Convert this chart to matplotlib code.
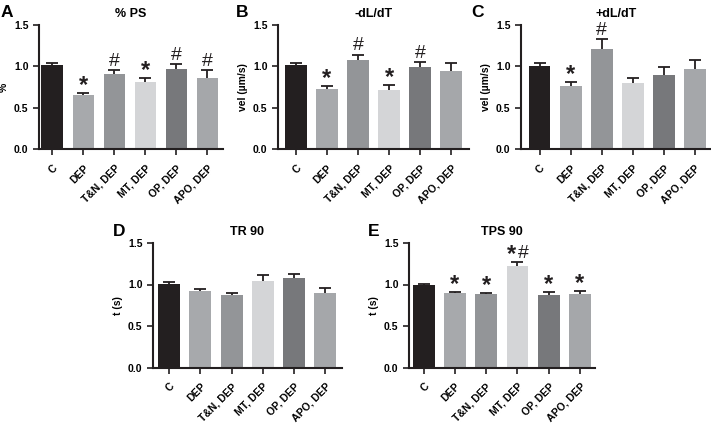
import matplotlib
matplotlib.use("Agg")
import matplotlib.pyplot as plt
import numpy as np

plt.rcParams['font.family'] = ['Liberation Sans', 'DejaVu Sans']
plt.rcParams['font.weight'] = 'bold'

categories = ["C", "DEP", "T&N, DEP", "MT, DEP", "OP, DEP", "APO, DEP"]
bar_colors = ["#231f20", "#a7a9ac", "#939598", "#d4d5d7", "#77787b", "#a5a7aa"]

ps_mean = [1.02, 0.66, 0.91, 0.81, 0.97, 0.86]
ps_err = [0.02, 0.025, 0.05, 0.055, 0.056, 0.093]
ps_marks = ["", "*", "#", "*", "#", "#"]

neg_mean = [1.02, 0.73, 1.08, 0.72, 0.99, 0.94]
neg_err = [0.02, 0.036, 0.064, 0.06, 0.06, 0.10]
neg_marks = ["", "*", "#", "*", "#", ""]

pos_mean = [1.01, 0.76, 1.21, 0.80, 0.90, 0.97]
pos_err = [0.035, 0.05, 0.125, 0.065, 0.088, 0.11]
pos_marks = ["", "*", "#", "", "", ""]

tr_mean = [1.01, 0.92, 0.87, 1.04, 1.08, 0.90]
tr_err = [0.02, 0.02, 0.025, 0.07, 0.05, 0.056]
tr_marks = ["", "", "", "", "", ""]

tps_mean = [1.00, 0.90, 0.88, 1.22, 0.87, 0.88]
tps_err = [0.01, 0.015, 0.016, 0.05, 0.04, 0.04]
tps_marks = ["", "*", "*", "*#", "*", "*"]

W, H = 711, 426
fig = plt.figure(figsize=(W / 100, H / 100), dpi=100)

panels = [
    ("A", "% PS", "%", ps_mean, ps_err, ps_marks, (39, 223, 25, 149.3), (-0.43, 5.5), (1, 17)),
    ("B", "-dL/dT", "vel (µm/s)", neg_mean, neg_err, neg_marks, (278, 469, 25, 149.3), (-0.58, 5.58), (236, 17)),
    ("C", "+dL/dT", "vel (µm/s)", pos_mean, pos_err, pos_marks, (521, 711, 25, 149.3), (-0.6, 5.52), (471, 17)),
    ("D", "TR 90", "t (s)", tr_mean, tr_err, tr_marks, (153, 342, 243, 367.5), (-0.52, 5.54), (113, 236)),
    ("E", "TPS 90", "t (s)", tps_mean, tps_err, tps_marks, (409, 595, 243, 367.5), (-0.47, 5.48), (368, 236)),
]

# glyph styles for significance marks: (fontsize, baseline offset in points, weight)
mark_style = {"*": (17, 0.5, 'bold'), "#": (14, 3.0, 'normal')}

x = np.arange(len(categories))
for letter, title, ylabel, means, errs, marks, box, xlim, lpos in panels:
    x0, x1, yt, yb = box
    ax = fig.add_axes([x0 / W, 1 - yb / H, (x1 - x0) / W, (yb - yt) / H])
    ax.bar(x, means, width=0.7, color=bar_colors, edgecolor='none', zorder=2)
    eb = ax.errorbar(x, means, yerr=[np.zeros(len(means)), errs], fmt='none',
                     ecolor='#231f20', elinewidth=1.3, capsize=4.3, capthick=1.3, zorder=3)
    # hide lower caps (error bars are one-sided, upwards)
    eb[1][0].set_visible(False)
    for xi, m, e, mk in zip(x, means, errs, marks):
        if not mk:
            continue
        n = len(mk)
        for k, ch in enumerate(mk):
            fs, dy, fw = mark_style[ch]
            dx = (k - (n - 1) / 2) * 8
            ax.annotate(ch, xy=(xi, m + e), xytext=(dx, dy), textcoords='offset points',
                        ha='center', va='baseline', fontsize=fs, fontweight=fw,
                        color='#231f20', annotation_clip=False)
    ax.set_xlim(*xlim)
    ax.set_ylim(0, 1.5)
    ax.set_yticks([0.0, 0.5, 1.0, 1.5])
    ax.set_yticklabels(["0.0", "0.5", "1.0", "1.5"])
    ax.set_xticks(x)
    ax.set_xticklabels(categories, rotation=45, ha='right', rotation_mode='anchor')
    ax.tick_params(axis='both', labelsize=7.5, width=1.2, length=4, color='#231f20')
    ax.tick_params(axis='x', pad=6)
    for s in ['top', 'right']:
        ax.spines[s].set_visible(False)
    for s in ['left', 'bottom']:
        ax.spines[s].set_linewidth(1.5)
        ax.spines[s].set_color('#231f20')
    ax.set_ylabel(ylabel, fontsize=7.5, fontweight='bold')
    ax.set_title(title, fontsize=9, fontweight='bold', pad=6)
    fig.text(lpos[0] / W, 1 - lpos[1] / H, letter, fontsize=12.5, fontweight='bold',
             ha='left', va='baseline')

fig.savefig("out.png", dpi=100)
